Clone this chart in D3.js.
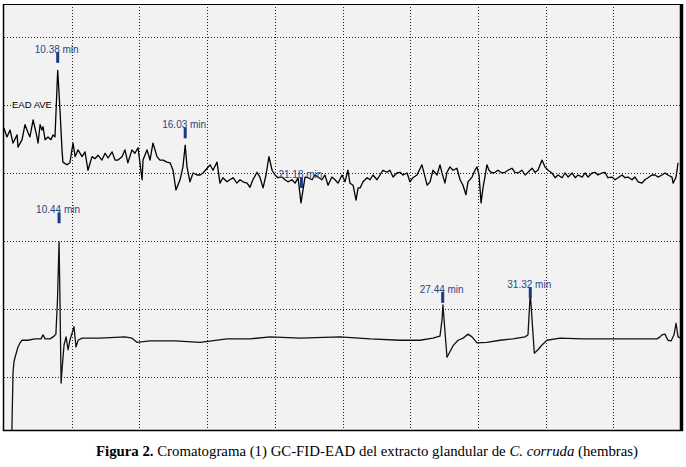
<!DOCTYPE html>
<html><head><meta charset="utf-8">
<script src="https://cdn.jsdelivr.net/npm/d3@7"></script>
<style>
html,body{margin:0;padding:0;background:#fff;}
svg{display:block;}
</style></head>
<body>
<svg id="chart" width="686" height="467"></svg>
<script>
// ---------------- DATA ----------------
const timeDomain = [8, 38];                 // minutes
const signalDomain = [-7.8, 54.85];         // arbitrary signal units
const timeGrid = [11, 14, 17, 20, 23, 26, 29, 32, 35];
const signalGrid = [0, 10, 20, 30, 40, 50];

const eadTimes = [8.00,8.13,8.27,8.40,8.58,8.62,8.80,8.93,9.06,9.15,9.29,9.46,9.51,9.60,9.68,9.73,9.82,9.95,10.08,10.17,10.26,10.38,10.48,10.57,10.61,10.79,10.92,11.01,11.06,11.15,11.28,11.46,11.59,11.72,11.90,12.03,12.17,12.34,12.48,12.61,12.79,12.92,13.05,13.23,13.36,13.49,13.67,13.80,13.94,14.12,14.16,14.34,14.47,14.60,14.78,14.91,15.05,15.22,15.36,15.49,15.62,15.80,15.93,16.03,16.11,16.24,16.38,16.55,16.69,16.82,17.00,17.13,17.26,17.44,17.57,17.70,17.88,18.01,18.15,18.32,18.46,18.59,18.77,18.90,19.03,19.21,19.34,19.48,19.61,19.74,19.88,20.01,20.14,20.32,20.45,20.58,20.76,20.90,21.03,21.16,21.25,21.34,21.47,21.65,21.78,21.91,22.09,22.22,22.36,22.53,22.67,22.80,22.98,23.11,23.24,23.33,23.47,23.60,23.69,23.78,23.91,24.09,24.22,24.35,24.53,24.66,24.79,24.97,25.10,25.24,25.41,25.55,25.68,25.86,25.99,26.12,26.30,26.52,26.66,26.75,26.88,27.01,27.19,27.32,27.41,27.54,27.63,27.76,27.90,28.07,28.21,28.34,28.47,28.56,28.74,28.87,28.96,29.05,29.14,29.23,29.31,29.40,29.49,29.62,29.76,29.89,30.07,30.20,30.33,30.51,30.64,30.78,30.95,31.09,31.22,31.40,31.53,31.66,31.84,31.97,32.11,32.28,32.42,32.55,32.73,32.86,33.00,33.17,33.31,33.44,33.62,33.75,33.88,34.06,34.19,34.32,34.50,34.63,34.76,34.94,35.08,35.21,35.39,35.52,35.65,35.83,35.96,36.10,36.27,36.40,36.54,36.71,36.85,36.98,37.16,37.29,37.42,37.60,37.65,37.78,37.87];
const eadValues = [36.6,35.3,36.3,34.4,35.6,33.8,34.9,37.1,36.0,35.3,37.8,35.3,34.4,37.1,36.3,36.8,34.9,35.3,34.9,35.6,35.3,45.1,39.3,33.4,31.6,31.2,31.5,33.4,34.4,32.4,33.4,32.4,33.1,30.4,32.4,32.1,32.6,31.9,32.9,32.2,33.1,31.9,31.9,32.4,33.4,31.5,33.4,32.9,33.7,29.0,31.9,33.4,31.9,34.4,32.4,31.9,31.9,31.6,31.5,30.4,27.5,29.0,30.9,34.1,30.9,28.7,30.0,29.7,29.7,30.0,30.7,31.2,30.4,31.6,28.5,29.3,28.7,29.0,29.3,28.5,29.0,28.7,28.5,27.9,29.0,30.1,29.4,27.8,29.7,32.4,30.4,29.7,29.3,29.4,29.0,28.7,29.0,28.5,29.3,25.6,27.5,29.4,29.3,29.0,29.7,29.4,29.0,29.7,28.2,29.4,29.0,28.5,29.7,28.7,30.4,28.5,28.2,26.0,27.8,27.8,28.7,29.3,29.0,29.7,29.0,29.7,30.4,30.1,30.4,29.4,30.0,30.1,29.7,30.0,28.7,29.3,29.7,31.2,29.4,28.2,28.7,30.4,29.7,31.2,30.0,28.5,30.1,30.9,30.4,30.7,29.0,28.2,26.8,28.7,29.4,30.4,30.9,29.7,25.6,27.9,29.4,31.2,30.4,30.0,30.1,30.4,30.0,30.1,30.4,30.7,30.1,30.0,30.4,29.7,30.1,30.7,30.1,30.4,31.9,30.9,30.4,30.0,29.3,29.7,29.3,30.0,29.4,30.0,29.3,29.7,29.4,30.0,29.4,30.0,30.1,29.7,30.0,30.1,29.3,29.4,29.0,29.3,29.7,29.3,29.4,29.0,29.4,28.7,28.5,29.0,29.3,29.7,29.7,29.4,29.7,30.0,29.7,29.4,28.5,29.4,31.5];

const fidTimes = [8.31,8.35,8.40,8.44,8.49,8.62,8.71,8.80,9.06,9.37,9.64,9.73,9.82,10.04,10.22,10.30,10.37,10.44,10.48,10.53,10.57,10.66,10.75,10.84,10.92,11.06,11.10,11.19,11.28,11.46,12.25,13.36,13.67,13.89,14.47,15.58,16.69,17.88,18.90,19.79,21.12,22.89,24.22,25.55,26.43,27.01,27.19,27.32,27.41,27.45,27.52,27.63,27.76,27.90,28.12,28.34,28.56,28.74,28.96,29.40,29.98,30.55,31.09,31.22,31.28,31.32,31.40,31.50,31.66,31.84,32.06,32.64,33.66,34.41,35.87,36.94,37.07,37.16,37.29,37.42,37.56,37.69,37.78,37.87,38.00];
const fidValues = [-9.3,-7.8,0.6,2.2,2.9,4.4,5.0,5.4,5.4,5.6,5.6,6.2,5.6,5.6,6.0,6.3,11.3,19.9,11.3,-0.9,1.0,4.7,5.9,4.0,5.4,6.9,7.4,4.4,5.4,5.7,5.7,5.9,5.7,5.1,5.3,5.3,5.1,5.6,5.6,5.9,5.7,5.9,5.6,5.4,5.4,5.7,5.9,6.0,8.4,10.6,7.6,2.9,3.7,4.6,5.4,5.7,6.3,5.9,5.0,5.1,5.4,5.6,5.9,6.2,9.9,12.4,8.4,3.5,4.0,4.7,5.4,5.7,5.6,5.6,5.6,5.6,5.9,6.2,6.3,5.4,5.3,6.2,7.9,5.9,5.7];

const peakLabels = ["10.38 min","16.03 min","21.18 min","10.44 min","27.44 min","31.32 min"];
const peakTimes  = [10.38, 16.03, 21.18, 10.44, 27.44, 31.32];
const peakLevels = [46.2, 35.1, 27.8, 22.6, 10.9, 11.6];   // signal level at marker foot
const traceLabel = "EAD AVE";
const traceLabelLevel = 40;
const captionParts = [
  {text:"Figura 2.", weight:"bold", style:"normal"},
  {text:" Cromatograma (1) GC-FID-EAD del extracto glandular de ", weight:"normal", style:"normal"},
  {text:"C. corruda", weight:"normal", style:"italic"},
  {text:" (hembras)", weight:"normal", style:"normal"}
];

// ---------------- LAYOUT ----------------
const svg = d3.select("#chart");
const plot = {left:4, right:681, top:4, bottom:430};
const x = d3.scaleLinear().domain(timeDomain).range([plot.left, plot.right]);
const y = d3.scaleLinear().domain(signalDomain).range([plot.bottom, plot.top]);

svg.append("defs").append("clipPath").attr("id","clip")
  .append("rect").attr("x",plot.left).attr("y",plot.top)
  .attr("width",plot.right-plot.left).attr("height",plot.bottom-plot.top);

svg.append("rect").attr("x",plot.left).attr("y",plot.top)
  .attr("width",plot.right-plot.left).attr("height",plot.bottom-plot.top)
  .attr("fill","#f2f2f2");

// grid
const grid = svg.append("g").attr("stroke","#222").attr("stroke-width",1)
  .attr("stroke-dasharray","1,2");
grid.selectAll("line.v").data(timeGrid).join("line")
  .attr("x1",d=>Math.round(x(d))+0.5).attr("x2",d=>Math.round(x(d))+0.5)
  .attr("y1",plot.top).attr("y2",plot.bottom);
grid.selectAll("line.h").data(signalGrid).join("line")
  .attr("y1",d=>Math.round(y(d))+0.5).attr("y2",d=>Math.round(y(d))+0.5)
  .attr("x1",plot.left).attr("x2",plot.right);

// trace label with background
const lab = svg.append("g");
const labText = lab.append("text").attr("x",12).attr("y",y(traceLabelLevel)+3)
  .attr("font-family","Liberation Sans, Arial, sans-serif").attr("font-size",9.5)
  .attr("fill","#000").text(traceLabel);
const bb = labText.node().getBBox();
lab.insert("rect","text").attr("x",bb.x-1).attr("y",bb.y).attr("width",bb.width+2)
  .attr("height",bb.height).attr("fill","#f2f2f2");

// traces
const line = d3.line().x(d=>x(d[0])).y(d=>y(d[1]));
const ead = d3.zip(eadTimes, eadValues);
const fid = d3.zip(fidTimes, fidValues);
const traces = svg.append("g").attr("clip-path","url(#clip)");
traces.append("path").datum(ead).attr("d",line).attr("fill","none")
  .attr("stroke","#000").attr("stroke-width",1.3).attr("stroke-linejoin","round");
traces.append("path").datum(fid).attr("d",line).attr("fill","none")
  .attr("stroke","#111").attr("stroke-width",1.3).attr("stroke-linejoin","round");

// peak markers + labels
const markerLen = 1.6;
const pk = svg.append("g");
peakTimes.forEach((t,i)=>{
  const xb = x(t), yFoot = y(peakLevels[i]), yTop = y(peakLevels[i]+markerLen);
  pk.append("rect").attr("x",xb-1.5).attr("y",yTop).attr("width",3)
    .attr("height",yFoot-yTop).attr("fill","#1a3a82");
  pk.append("text").attr("x",xb-1).attr("y",yTop+1)
    .attr("text-anchor","middle")
    .attr("font-family","Liberation Sans, Arial, sans-serif").attr("font-size",10)
    .attr("fill","#2a4585").text(peakLabels[i]);
});

// frame
svg.append("line").attr("x1",plot.left-0.5).attr("x2",plot.left-0.5)
  .attr("y1",plot.top).attr("y2",plot.bottom+1).attr("stroke","#000").attr("stroke-width",1.5);
svg.append("line").attr("x1",plot.left).attr("x2",plot.right)
  .attr("y1",plot.top+0.5).attr("y2",plot.top+0.5).attr("stroke","#000").attr("stroke-width",1);
svg.append("line").attr("x1",plot.left-1).attr("x2",plot.right+2)
  .attr("y1",plot.bottom+0.5).attr("y2",plot.bottom+0.5).attr("stroke","#000").attr("stroke-width",1.5);
svg.append("line").attr("x1",plot.right+0.5).attr("x2",plot.right+0.5)
  .attr("y1",plot.top).attr("y2",plot.bottom+1).attr("stroke","#000").attr("stroke-width",3.5);

// caption
const cap = svg.append("text").attr("x",367).attr("y",456).attr("text-anchor","middle")
  .attr("font-family","Liberation Serif, Times New Roman, serif").attr("font-size",14.8)
  .attr("fill","#000");
cap.selectAll("tspan").data(captionParts).join("tspan")
  .attr("font-weight",d=>d.weight).attr("font-style",d=>d.style)
  .text(d=>d.text);
</script>
</body></html>
